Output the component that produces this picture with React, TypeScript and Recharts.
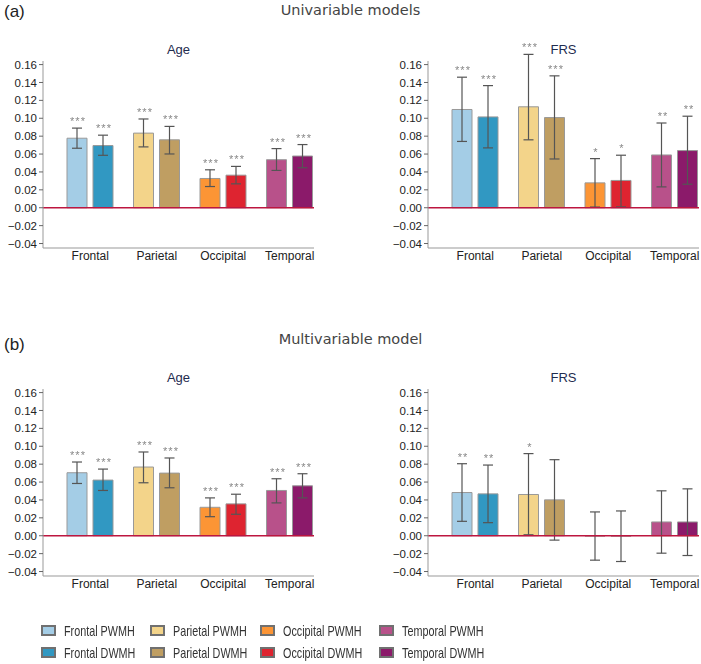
import React from 'react';
import { BarChart, Bar, XAxis, YAxis, ErrorBar, ReferenceLine, Cell, LabelList } from 'recharts';

const regions = ['Frontal', 'Parietal', 'Occipital', 'Temporal'];
const yTicks = [-0.04, -0.02, 0, 0.02, 0.04, 0.06, 0.08, 0.1, 0.12, 0.14, 0.16];

const pwmhColors = ['#a4cde6', '#f3d48a', '#fc9535', '#b8518a'];
const dwmhColors = ['#3198c2', '#bf9e62', '#de2430', '#8b1a6a'];

// (a) univariable models - Age
const uniAgePwmh = [0.0777, 0.0834, 0.0327, 0.0537];
const uniAgePwmhLo = [0.0665, 0.068, 0.0237, 0.0417];
const uniAgePwmhHi = [0.089, 0.0992, 0.0424, 0.0661];
const uniAgeDwmh = [0.0695, 0.0759, 0.0364, 0.0578];
const uniAgeDwmhLo = [0.0586, 0.0601, 0.0267, 0.0447];
const uniAgeDwmhHi = [0.0811, 0.0909, 0.0462, 0.0706];
const uniAgePwmhStars = ['***', '***', '***', '***'];
const uniAgeDwmhStars = ['***', '***', '***', '***'];

// (a) univariable models - FRS
const uniFrsPwmh = [0.1098, 0.1128, 0.0278, 0.059];
const uniFrsPwmhLo = [0.0741, 0.0759, 0.0008, 0.0233];
const uniFrsPwmhHi = [0.1459, 0.1714, 0.0549, 0.0947];
const uniFrsDwmh = [0.1015, 0.1008, 0.0305, 0.0639];
const uniFrsDwmhLo = [0.0669, 0.0545, 0.001, 0.0263];
const uniFrsDwmhHi = [0.1365, 0.1474, 0.0587, 0.1023];
const uniFrsPwmhStars = ['***', '***', '*', '**'];
const uniFrsDwmhStars = ['***', '***', '*', '**'];

// (b) multivariable model - Age
const multiAgePwmh = [0.0704, 0.0768, 0.0318, 0.0506];
const multiAgePwmhLo = [0.0584, 0.0592, 0.0213, 0.0367];
const multiAgePwmhHi = [0.0824, 0.0936, 0.0423, 0.0637];
const multiAgeDwmh = [0.0622, 0.07, 0.0356, 0.0558];
const multiAgeDwmhLo = [0.0506, 0.0536, 0.024, 0.0423];
const multiAgeDwmhHi = [0.0745, 0.0869, 0.0464, 0.0693];
const multiAgePwmhStars = ['***', '***', '***', '***'];
const multiAgeDwmhStars = ['***', '***', '***', '***'];

// (b) multivariable model - FRS
const multiFrsPwmh = [0.0483, 0.0461, -0.0004, 0.0154];
const multiFrsPwmhLo = [0.0161, 0.0011, -0.0273, -0.0195];
const multiFrsPwmhHi = [0.0805, 0.0918, 0.0266, 0.0502];
const multiFrsDwmh = [0.0468, 0.0401, -0.0005, 0.0154];
const multiFrsDwmhLo = [0.0146, -0.0049, -0.0288, -0.0221];
const multiFrsDwmhHi = [0.079, 0.085, 0.0277, 0.0524];
const multiFrsPwmhStars = ['**', '*', '', ''];
const multiFrsDwmhStars = ['**', '', '', ''];

const legendItems = [
  ['Frontal PWMH', pwmhColors[0]], ['Parietal PWMH', pwmhColors[1]], ['Occipital PWMH', pwmhColors[2]], ['Temporal PWMH', pwmhColors[3]],
  ['Frontal DWMH', dwmhColors[0]], ['Parietal DWMH', dwmhColors[1]], ['Occipital DWMH', dwmhColors[2]], ['Temporal DWMH', dwmhColors[3]],
];

const FONT = "'Liberation Sans', Arial, sans-serif";

const makeRows = (p: number[], pLo: number[], pHi: number[], pS: string[],
  d: number[], dLo: number[], dHi: number[], dS: string[]) =>
  regions.map((region, i) => ({
    region,
    pwmh: p[i], pwmhHi: pHi[i], pwmhStars: pS[i], pwmhErr: [p[i] - pLo[i], pHi[i] - p[i]],
    dwmh: d[i], dwmhHi: dHi[i], dwmhStars: dS[i], dwmhErr: [d[i] - dLo[i], dHi[i] - d[i]],
  }));

// stars go just above the upper CI; pixel size of a unit comes from the bar itself
const starLabel = (rows: any[], key: 'pwmh' | 'dwmh') => (props: any) => {
  const vb = props.viewBox ?? props;
  const row = rows[props.index];
  if (!row || !row[key + 'Stars'] || !row[key]) return null;
  const h = Math.abs(vb.height);
  const top = Math.min(vb.y, vb.y + vb.height);
  const unit = h / Math.abs(row[key]);
  const zeroY = row[key] >= 0 ? top + h : top;
  const errTop = zeroY - row[key + 'Hi'] * unit;
  return (
    <text x={Math.round(vb.x + vb.width / 2 + 1)} y={Math.round(errTop - 3)} textAnchor="middle" fontSize={11}
      letterSpacing={1} fill="#888" stroke="none" fontFamily={FONT} style={{ filter: 'grayscale(1)' }}>
      {row[key + 'Stars']}
    </text>
  );
};

const fmt = (v: number) => (v < 0 ? '\u2212' + Math.abs(v).toFixed(2) : v.toFixed(2));

const Panel = ({ rows, title, left, top }: { rows: any[]; title: string; left: number; top: number }) => (
  <div style={{ position: 'absolute', left, top }}>
    <div style={{ position: 'absolute', left: 43, width: 271, top: -13, textAlign: 'center', fontSize: 13,
      color: '#1f2c4f', fontFamily: FONT, lineHeight: '14px' }}>{title}</div>
    <BarChart width={314} height={214} data={rows} margin={{ top: 5, right: 0, left: 0, bottom: 0 }}
      barSize={20} barGap={6}>
      <XAxis dataKey="region" type="category" padding={{ left: 14, right: -9 }} tickLine={false} tickSize={1}
        axisLine={{ stroke: '#999' }} height={22} interval={0}
        tick={{ fontSize: 12, fill: '#222', fontFamily: FONT }} />
      <YAxis type="number" domain={[-0.045, 0.164]} allowDataOverflow ticks={yTicks} width={43}
        tickFormatter={fmt} tickSize={4} tickLine={{ stroke: '#666' }} axisLine={{ stroke: '#999' }}
        tick={{ fontSize: 11.5, fill: '#222', fontFamily: FONT }} />
      <Bar dataKey="pwmh" stroke="#999" strokeWidth={1} isAnimationActive={false}>
        {rows.map((r, i) => <Cell key={r.region} fill={pwmhColors[i]} />)}
        <ErrorBar dataKey="pwmhErr" width={5} stroke="#555" strokeWidth={1.2} direction="y" />
        <LabelList dataKey="pwmhStars" content={starLabel(rows, 'pwmh')} />
      </Bar>
      <Bar dataKey="dwmh" stroke="#999" strokeWidth={1} isAnimationActive={false}>
        {rows.map((r, i) => <Cell key={r.region} fill={dwmhColors[i]} />)}
        <ErrorBar dataKey="dwmhErr" width={5} stroke="#555" strokeWidth={1.2} direction="y" />
        <LabelList dataKey="dwmhStars" content={starLabel(rows, 'dwmh')} />
      </Bar>
      <ReferenceLine y={0} stroke="#bd1640" strokeWidth={1.6} />
    </BarChart>
  </div>
);

const Heading = ({ text, y }: { text: string; y: number }) => (
  <div style={{ position: 'absolute', left: 0, width: 701, top: y, textAlign: 'center', fontSize: 14.5,
    color: '#444', fontFamily: "'DejaVu Sans', sans-serif", lineHeight: '18px' }}>{text}</div>
);

const Tag = ({ text, y }: { text: string; y: number }) => (
  <div style={{ position: 'absolute', left: 4, top: y, fontSize: 17, color: '#222', fontFamily: FONT,
    lineHeight: '20px' }}>{text}</div>
);

export default function App() {
  const uniAge = makeRows(uniAgePwmh, uniAgePwmhLo, uniAgePwmhHi, uniAgePwmhStars,
    uniAgeDwmh, uniAgeDwmhLo, uniAgeDwmhHi, uniAgeDwmhStars);
  const uniFrs = makeRows(uniFrsPwmh, uniFrsPwmhLo, uniFrsPwmhHi, uniFrsPwmhStars,
    uniFrsDwmh, uniFrsDwmhLo, uniFrsDwmhHi, uniFrsDwmhStars);
  const multiAge = makeRows(multiAgePwmh, multiAgePwmhLo, multiAgePwmhHi, multiAgePwmhStars,
    multiAgeDwmh, multiAgeDwmhLo, multiAgeDwmhHi, multiAgeDwmhStars);
  const multiFrs = makeRows(multiFrsPwmh, multiFrsPwmhLo, multiFrsPwmhHi, multiFrsPwmhStars,
    multiFrsDwmh, multiFrsDwmhLo, multiFrsDwmhHi, multiFrsDwmhStars);

  return (
    <div style={{ position: 'absolute', left: 0, top: 0, width: 701, height: 664, background: '#fff', overflow: 'hidden' }}>
      {/* the fixed axis range must not cut off the tallest CI and its stars */}
      <style>{'.recharts-wrapper [clip-path] { clip-path: none !important; } .recharts-surface { overflow: visible; }'}</style>
      <Tag text="(a)" y={2} />
      <Heading text="Univariable models" y={1} />
      <Panel rows={uniAge} title="Age" left={0} top={56} />
      <Panel rows={uniFrs} title="FRS" left={385} top={56} />

      <Tag text="(b)" y={335} />
      <Heading text="Multivariable model" y={330} />
      <Panel rows={multiAge} title="Age" left={0} top={384} />
      <Panel rows={multiFrs} title="FRS" left={385} top={384} />

      <div style={{ position: 'absolute', left: 41, top: 621, display: 'grid',
        gridTemplateColumns: '109px 110px 119px auto', rowGap: 4,
        fontFamily: FONT, fontSize: 15, color: '#333' }}>
        {legendItems.map(([label, color]) => (
          <div key={label} style={{ display: 'flex', alignItems: 'center', height: 18, whiteSpace: 'nowrap' }}>
            <span style={{ display: 'inline-block', width: 11, height: 7, background: color,
              border: '2px solid #707070', marginRight: 8, flex: 'none' }} />
            <span style={{ display: 'inline-block', transform: 'scaleX(0.72)', transformOrigin: 'left center' }}>{label}</span>
          </div>
        ))}
      </div>
    </div>
  );
}
